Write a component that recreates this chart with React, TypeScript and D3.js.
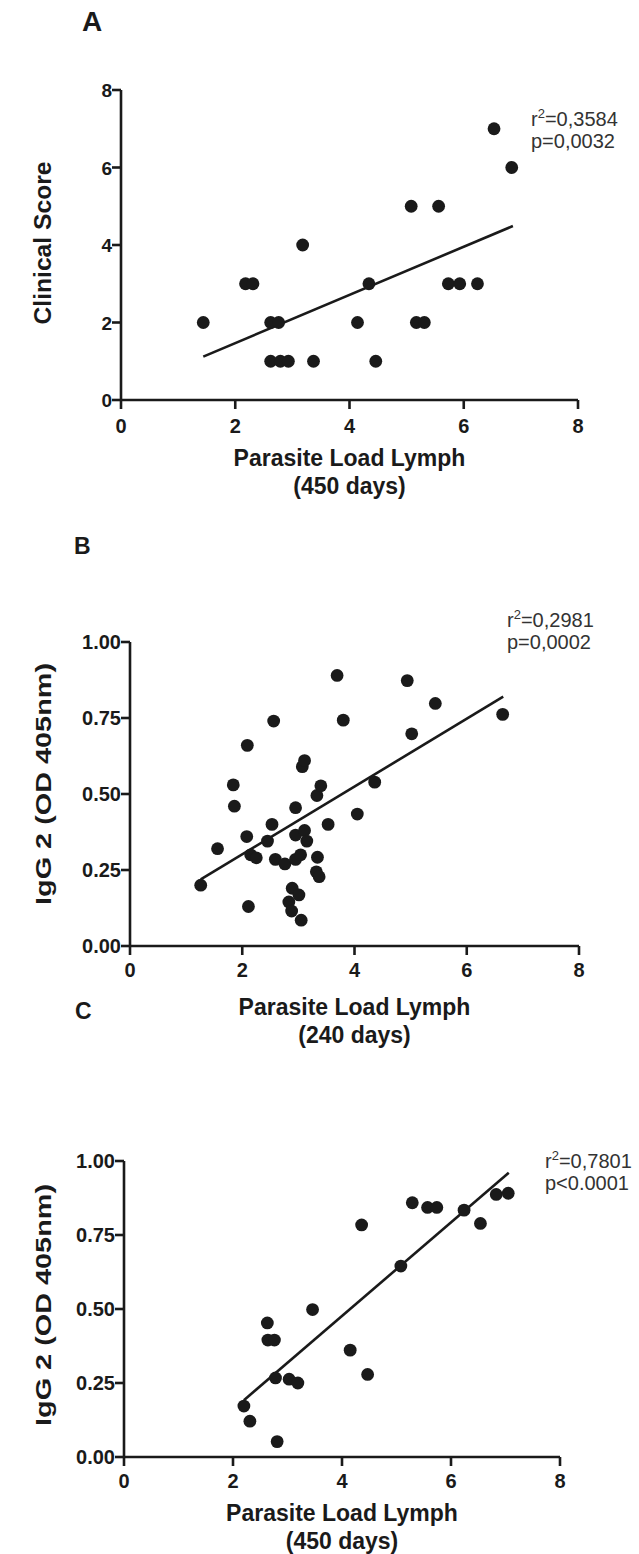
import React from 'react';
import * as d3 from 'd3';

// panel A: clinical score vs parasite load (450 days)
const loadA = [1.44, 2.18, 2.31, 2.62, 2.76, 2.62, 2.79, 2.93, 3.18, 3.37, 4.14, 4.34, 4.46, 5.08, 5.56, 5.17, 5.31, 5.73, 5.93, 6.24, 6.53, 6.84];
const scoreA = [2, 3, 3, 2, 2, 1, 1, 1, 4, 1, 2, 3, 1, 5, 5, 2, 2, 3, 3, 3, 7, 6];
const fitAx = [1.44, 6.86];
const fitAy = [1.12, 4.49];

// panel B: IgG2 vs parasite load (240 days)
const loadB = [1.26, 1.56, 1.84, 1.86, 2.08, 2.09, 2.11, 2.15, 2.25, 2.45, 2.53, 2.56, 2.59, 2.76, 2.83, 2.88, 2.89, 2.95, 2.95, 2.95, 3.01, 3.04, 3.05, 3.07, 3.11, 3.11, 3.15, 3.33, 3.40, 3.34, 3.32, 3.37, 3.53, 3.69, 3.80, 4.05, 4.36, 4.94, 5.02, 5.44, 6.64];
const iggB = [0.20, 0.32, 0.53, 0.46, 0.36, 0.66, 0.13, 0.30, 0.29, 0.345, 0.40, 0.74, 0.285, 0.27, 0.145, 0.115, 0.19, 0.455, 0.365, 0.285, 0.168, 0.30, 0.085, 0.59, 0.61, 0.38, 0.345, 0.495, 0.527, 0.292, 0.244, 0.228, 0.40, 0.89, 0.743, 0.434, 0.539, 0.873, 0.698, 0.798, 0.762];
const fitBx = [1.26, 6.65];
const fitBy = [0.219, 0.82];

// panel C: IgG2 vs parasite load (450 days)
const loadC = [2.20, 2.31, 2.81, 2.63, 2.64, 2.76, 2.78, 3.03, 3.19, 3.46, 4.15, 4.47, 4.36, 5.08, 5.29, 5.57, 5.74, 6.24, 6.54, 6.83, 7.05];
const iggC = [0.172, 0.121, 0.052, 0.453, 0.395, 0.395, 0.267, 0.263, 0.25, 0.498, 0.361, 0.279, 0.784, 0.645, 0.859, 0.843, 0.843, 0.834, 0.789, 0.887, 0.891];
const fitCx = [2.20, 7.06];
const fitCy = [0.192, 0.96];

const xTicks = [0, 2, 4, 6, 8];
const scoreTicks = [0, 2, 4, 6, 8];
const iggTicks = [0, 0.25, 0.5, 0.75, 1];

const INK = '#1a1a1a';
const FONT = '"Liberation Sans", Arial, sans-serif';

const panels = [
  {
    letter: 'A', letterX: 82, letterY: 31, letterSize: 28,
    xs: loadA, ys: scoreA, fx: fitAx, fy: fitAy,
    yMax: 8, yTicks: scoreTicks, yFmt: d3.format('d'),
    left: 121, right: 578, top: 90, bottom: 400,
    yTitle: 'Clinical Score', yTitleY: 243, yTitleLen: 163, yTitleSize: 23,
    xTitle2: '(450 days)', xTickY: 433, xTitleY: 466,
    r2: '=0,3584', p: 'p=0,0032', annX: 531, annY: 126,
  },
  {
    letter: 'B', letterX: 74, letterY: 554, letterSize: 23,
    xs: loadB, ys: iggB, fx: fitBx, fy: fitBy,
    yMax: 1, yTicks: iggTicks, yFmt: d3.format('.2f'),
    left: 130, right: 579, top: 642, bottom: 946,
    yTitle: 'IgG 2 (OD 405nm)', yTitleY: 784, yTitleLen: 242, yTitleSize: 22,
    xTitle2: '(240 days)', xTickY: 977, xTitleY: 1015,
    r2: '=0,2981', p: 'p=0,0002', annX: 507, annY: 627,
  },
  {
    letter: 'C', letterX: 75, letterY: 1019, letterSize: 23,
    xs: loadC, ys: iggC, fx: fitCx, fy: fitCy,
    yMax: 1, yTicks: iggTicks, yFmt: d3.format('.2f'),
    left: 124, right: 560, top: 1161, bottom: 1457,
    yTitle: 'IgG 2 (OD 405nm)', yTitleY: 1305, yTitleLen: 242, yTitleSize: 22,
    xTitle2: '(450 days)', xTickY: 1488, xTitleY: 1521,
    r2: '=0,7801', p: 'p<0.0001', annX: 545, annY: 1168,
  },
];

const Panel = ({ cfg }) => {
  const x = d3.scaleLinear().domain([0, 8]).range([cfg.left, cfg.right]);
  const y = d3.scaleLinear().domain([0, cfg.yMax]).range([cfg.bottom, cfg.top]);
  const line = d3.line<number>().x((d) => x(d)).y((_, i) => y(cfg.fy[i]));
  const midX = (cfg.left + cfg.right) / 2;

  return (
    <g fill={INK} fontFamily={FONT}>
      <text x={cfg.letterX} y={cfg.letterY} fontSize={cfg.letterSize} fontWeight="bold">{cfg.letter}</text>

      {/* axes */}
      <line x1={cfg.left} x2={cfg.left} y1={cfg.top} y2={cfg.bottom} stroke={INK} strokeWidth={2.6} />
      <line x1={cfg.left} x2={cfg.right} y1={cfg.bottom} y2={cfg.bottom} stroke={INK} strokeWidth={2.6} />
      {cfg.yTicks.map((t) => (
        <g key={'y' + t}>
          <line x1={cfg.left - 9} x2={cfg.left} y1={y(t)} y2={y(t)} stroke={INK} strokeWidth={2.6} />
          <text x={cfg.left - 9} y={y(t) + 7} textAnchor="end" fontSize={cfg.yMax === 1 ? 20 : 19} fontWeight="bold">{cfg.yFmt(t)}</text>
        </g>
      ))}
      {xTicks.map((t) => (
        <g key={'x' + t}>
          <line x1={x(t)} x2={x(t)} y1={cfg.bottom} y2={cfg.bottom + 9} stroke={INK} strokeWidth={2.6} />
          <text x={x(t)} y={cfg.xTickY} textAnchor="middle" fontSize={20} fontWeight="bold">{t}</text>
        </g>
      ))}

      {/* titles */}
      <text x={midX} y={cfg.xTitleY} textAnchor="middle" fontSize={23} fontWeight="bold">Parasite Load Lymph</text>
      <text x={midX} y={cfg.xTitleY + 28} textAnchor="middle" fontSize={23} fontWeight="bold">{cfg.xTitle2}</text>
      <text
        transform={`translate(51,${cfg.yTitleY}) rotate(-90)`}
        textAnchor="middle"
        fontSize={cfg.yTitleSize}
        fontWeight="bold"
        textLength={cfg.yTitleLen}
        lengthAdjust="spacingAndGlyphs"
      >
        {cfg.yTitle}
      </text>

      {/* fit line and points */}
      <path d={line(cfg.fx) || ''} fill="none" stroke={INK} strokeWidth={2.6} />
      {cfg.xs.map((v, i) => (
        <circle key={i} cx={x(v)} cy={y(cfg.ys[i])} r={6.4} />
      ))}

      {/* stats */}
      <text x={cfg.annX} y={cfg.annY} fontSize={20} fill="#333">
        r<tspan dy={-8} fontSize={13}>2</tspan><tspan dy={8}>{cfg.r2}</tspan>
      </text>
      <text x={cfg.annX} y={cfg.annY + 22} fontSize={20} fill="#333">{cfg.p}</text>
    </g>
  );
};

export default function App() {
  return (
    <div style={{ position: 'absolute', left: 0, top: 0 }}>
      <svg width={639} height={1554} style={{ display: 'block', background: '#fff' }}>
        {panels.map((p) => (
          <Panel key={p.letter} cfg={p} />
        ))}
      </svg>
    </div>
  );
}
